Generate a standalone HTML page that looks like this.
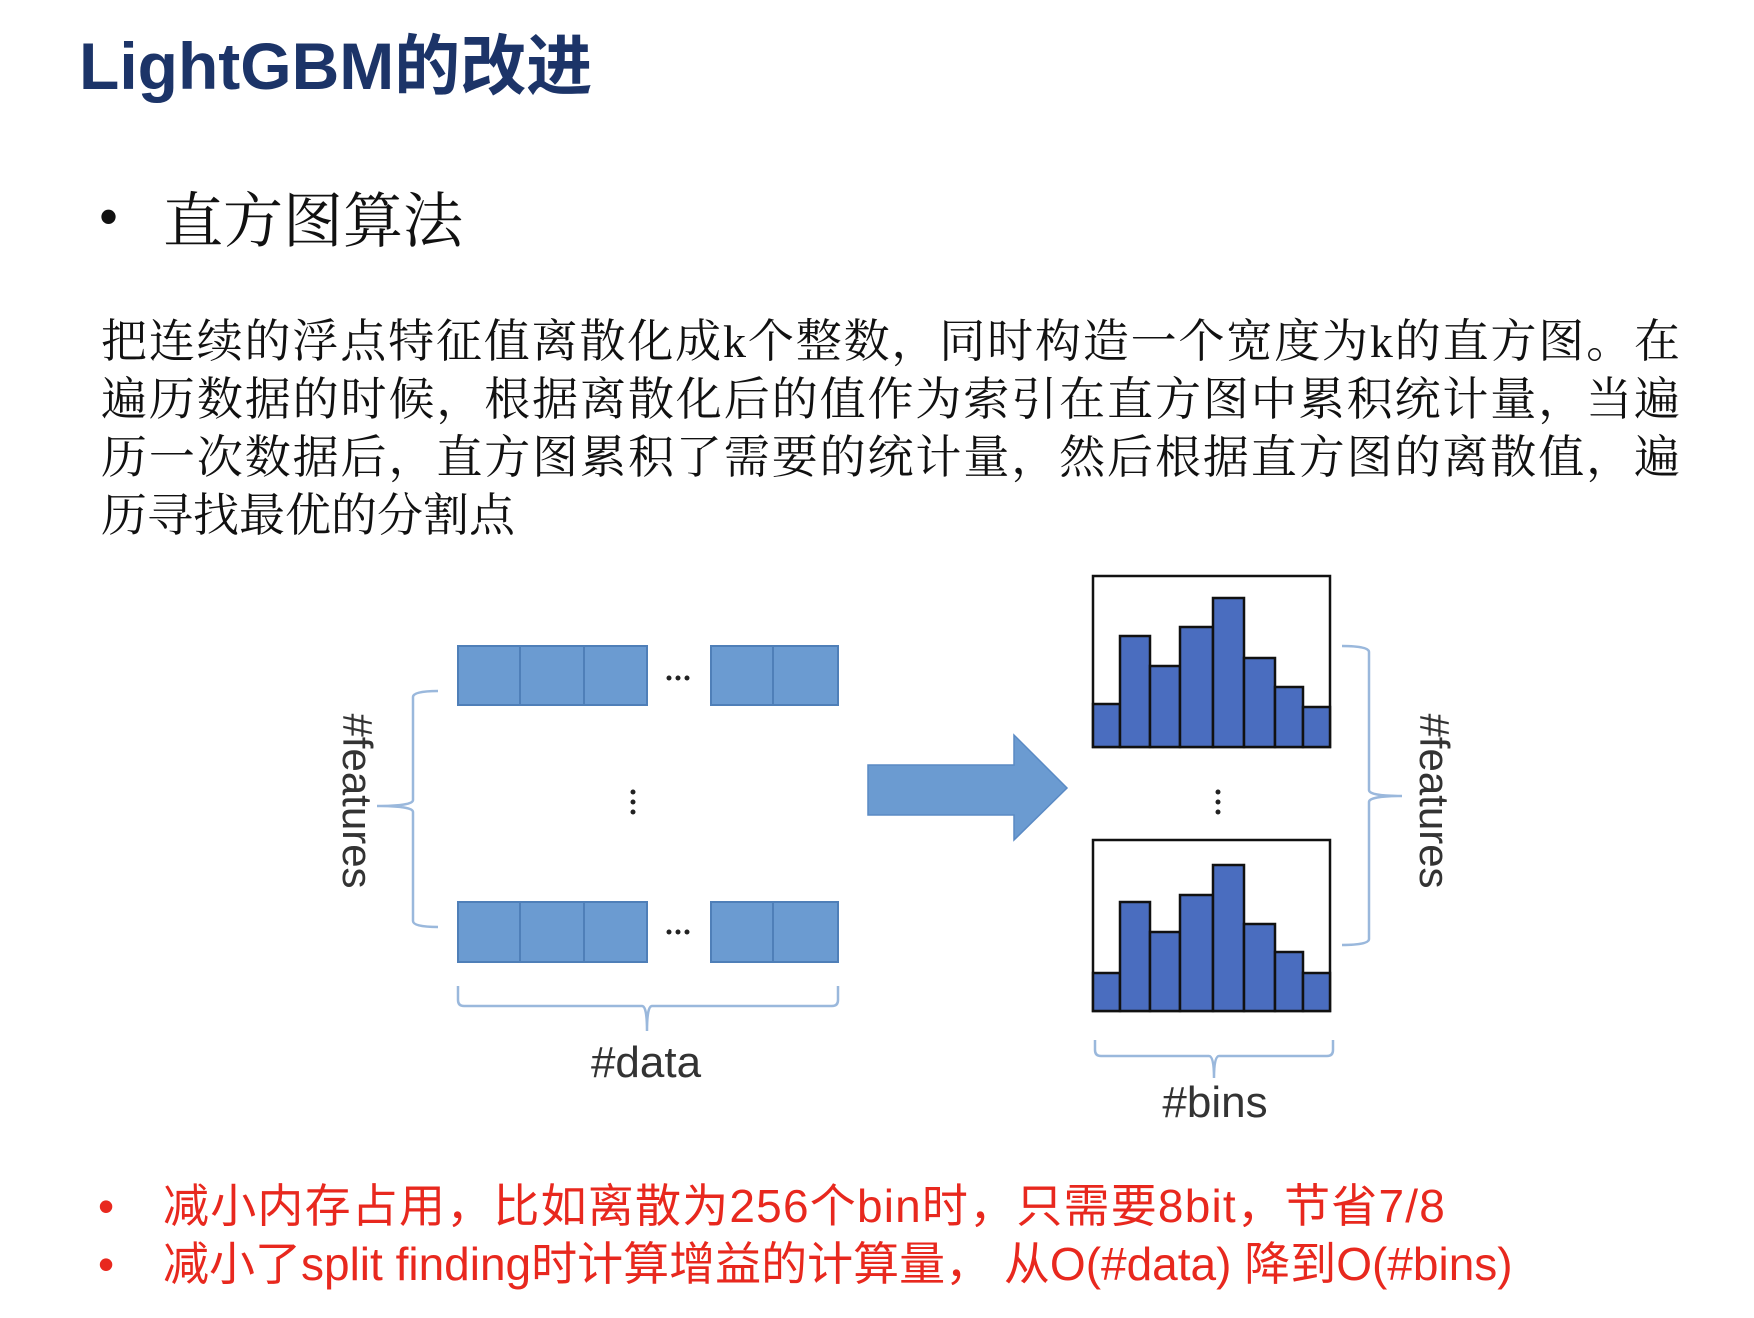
<!DOCTYPE html>
<html><head><meta charset="utf-8"><style>
body{margin:0;width:1754px;height:1318px;background:#fff;position:relative;overflow:hidden}
.a{position:absolute;white-space:nowrap}
.t{left:79px;top:13px;font:bold 66px "Liberation Sans Narrow","Liberation Sans","Noto Sans CJK SC",sans-serif;color:#1c3468}
.h{top:174px;font:60px "Liberation Serif","Noto Serif CJK SC",serif;color:#111}
.p{left:101px;width:1579px;font:46px "Liberation Serif","Noto Serif CJK SC",serif;color:#111;text-align:justify;text-align-last:justify;line-height:58px}
.r{font:46px "Liberation Sans Narrow","Liberation Sans","Noto Sans CJK SC",sans-serif;color:#e8281e}
</style></head><body>
<div class="a t">LightGBM的改进</div>
<div class="a h" style="left:98px;top:183px">•</div>
<div class="a h" style="left:163px">直方图算法</div>
<div class="a p" style="top:313px">把连续的浮点特征值离散化成k个整数，同时构造一个宽度为k的直方图。在</div>
<div class="a p" style="top:371px">遍历数据的时候，根据离散化后的值作为索引在直方图中累积统计量，当遍</div>
<div class="a p" style="top:429px">历一次数据后，直方图累积了需要的统计量，然后根据直方图的离散值，遍</div>
<div class="a p" style="top:487px;text-align-last:left">历寻找最优的分割点</div>
<svg class="a" style="left:-3px;top:-3px" width="1754" height="1318">
<g fill="#6b9bd1" stroke="#4f7fb8" stroke-width="2">
<rect x="461" y="649" width="189" height="59"/><line x1="523" y1="649" x2="523" y2="708"/><line x1="587" y1="649" x2="587" y2="708"/>
<rect x="714" y="649" width="127" height="59"/><line x1="776" y1="649" x2="776" y2="708"/>
<rect x="461" y="905" width="189" height="60"/><line x1="523" y1="905" x2="523" y2="965"/><line x1="587" y1="905" x2="587" y2="965"/>
<rect x="714" y="905" width="127" height="60"/><line x1="776" y1="905" x2="776" y2="965"/>
</g>
<g fill="#222"><circle cx="672" cy="681" r="2.5"/><circle cx="681" cy="681" r="2.5"/><circle cx="690" cy="681" r="2.5"/>
<circle cx="672" cy="935" r="2.5"/><circle cx="681" cy="935" r="2.5"/><circle cx="690" cy="935" r="2.5"/>
<circle cx="636" cy="795" r="2.5"/><circle cx="636" cy="805" r="2.5"/><circle cx="636" cy="815" r="2.5"/>
<circle cx="1221" cy="795" r="2.5"/><circle cx="1221" cy="805" r="2.5"/><circle cx="1221" cy="815" r="2.5"/></g>
<g fill="none" stroke="#9ab8dc" stroke-width="2.5">
<path d="M441 694 Q416 694 416 700 L416 803 Q416 809 380 809 Q416 809 416 815 L416 924 Q416 930 441 930"/>
<path d="M461 989 L461 1003 Q461 1009 467 1009 L645 1009 Q650 1009 650 1034 Q650 1009 655 1009 L835 1009 Q841 1009 841 1003 L841 989"/>
<path d="M1345 649 Q1372 649 1372 655 L1372 793 Q1372 799 1405 799 Q1372 799 1372 805 L1372 942 Q1372 948 1345 948"/>
<path d="M1098 1043 L1098 1053 Q1098 1059 1104 1059 L1212 1059 Q1217 1059 1217 1081 Q1217 1059 1222 1059 L1330 1059 Q1336 1059 1336 1053 L1336 1043"/>
</g>
<path d="M871 768 L1017 768 L1017 738 L1070 791 L1017 843 L1017 818 L871 818 Z" fill="#6b9bd1" stroke="#5a8ac4" stroke-width="1.5"/>
<g stroke="#111" stroke-width="2.5" fill="#4a6dbf">
<rect x="1096" y="579" width="237" height="171" fill="#fff"/>
<rect x="1096" y="707" width="27" height="43"/><rect x="1123" y="639" width="30" height="111"/><rect x="1153" y="669" width="30" height="81"/><rect x="1183" y="630" width="33" height="120"/><rect x="1216" y="601" width="31" height="149"/><rect x="1247" y="661" width="31" height="89"/><rect x="1278" y="690" width="28" height="60"/><rect x="1306" y="710" width="27" height="40"/>
<g transform="translate(0,264)">
<rect x="1096" y="579" width="237" height="171" fill="#fff"/>
<rect x="1096" y="712" width="27" height="38"/><rect x="1123" y="641" width="30" height="109"/><rect x="1153" y="671" width="30" height="79"/><rect x="1183" y="634" width="33" height="116"/><rect x="1216" y="604" width="31" height="146"/><rect x="1247" y="663" width="31" height="87"/><rect x="1278" y="691" width="28" height="59"/><rect x="1306" y="712" width="27" height="38"/>
</g></g>
<g font-family="Liberation Sans, sans-serif" font-size="42" fill="#333">
<text transform="translate(346,804) rotate(90)" text-anchor="middle">#features</text>
<text transform="translate(1423,804) rotate(90)" text-anchor="middle">#features</text>
<text x="649" y="1080" text-anchor="middle" font-family="Liberation Sans Narrow, Liberation Sans, sans-serif" font-size="44">#data</text>
<text x="1218" y="1120" text-anchor="middle" font-family="Liberation Sans Narrow, Liberation Sans, sans-serif" font-size="44">#bins</text>
</g>
</svg>
<div class="a r" style="left:98px;top:1179px">•</div>
<div class="a r" style="left:163px;top:1170px;letter-spacing:1.2px">减小内存占用，比如离散为256个bin时，只需要8bit，节省7/8</div>
<div class="a r" style="left:98px;top:1237px">•</div>
<div class="a r" style="left:163px;top:1228px;letter-spacing:0px">减小了split finding时计算增益的计算量， 从O(#data) 降到O(#bins)</div>
</body></html>
